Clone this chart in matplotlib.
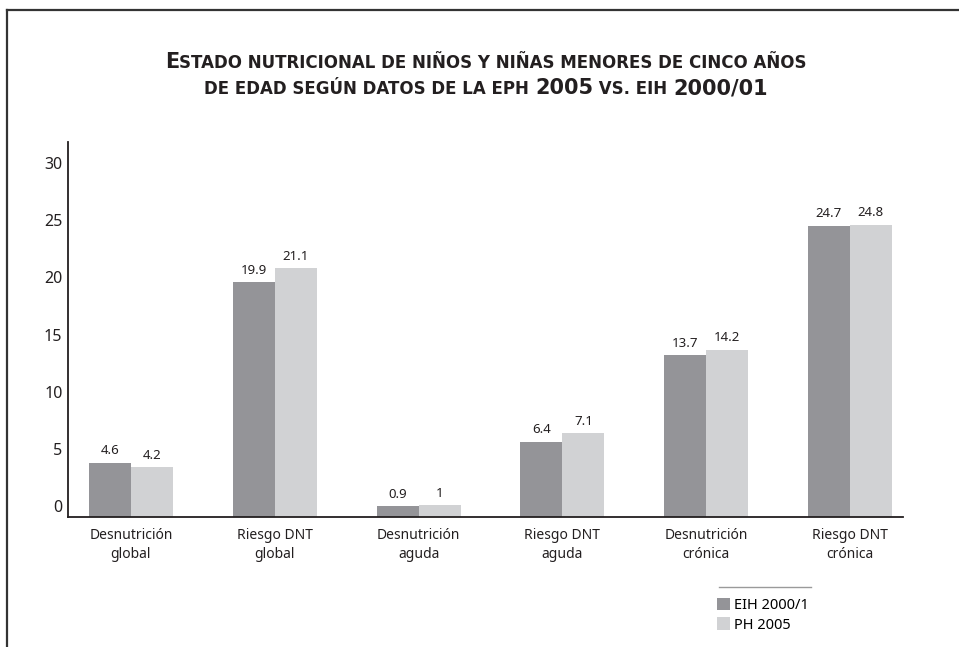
import numpy as np
import matplotlib
matplotlib.use("Agg")
import matplotlib.pyplot as plt
from matplotlib.patches import Patch
from matplotlib.lines import Line2D
from matplotlib.offsetbox import TextArea, HPacker, VPacker, AnchoredOffsetbox
from matplotlib.transforms import ScaledTranslation

categories = ["Desnutrición\nglobal", "Riesgo DNT\nglobal", "Desnutrición\naguda",
              "Riesgo DNT\naguda", "Desnutrición\ncrónica", "Riesgo DNT\ncrónica"]
eih_2000 = [4.6, 19.9, 0.9, 6.4, 13.7, 24.7]
eph_2005 = [4.2, 21.1, 1.0, 7.1, 14.2, 24.8]
series_names = ["EIH 2000/1", "PH 2005"]
yticks = [0, 5, 10, 15, 20, 25, 30]

DARK = "#949498"
LIGHT = "#d1d2d4"
TXT = "#231f20"
FONT = ["Noto Sans", "DejaVu Sans"]
TFONT = ["DejaVu Sans"]

fig = plt.figure(figsize=(9.59, 6.47), dpi=100)
ax = fig.add_axes([68/959, 1-517/647, (903-68)/959, (517-142)/647])

x = np.arange(len(categories))
w = 0.292
b1 = ax.bar(x - w/2, eih_2000, w, color=DARK, label=series_names[0])
b2 = ax.bar(x + w/2, eph_2005, w, color=LIGHT, label=series_names[1])
for bars in (b1, b2):
    ax.bar_label(bars, fmt="{:g}", padding=4, fontsize=9.5, color=TXT, family=FONT)

ax.set_xlim(-0.438, 5.369)
ax.set_ylim(0, 31.8)
ax.set_yticks(yticks)
ax.set_yticklabels([str(v) for v in yticks], fontsize=11.5, color=TXT, family=FONT)
ax.set_xticks(x)
ax.set_xticklabels(categories, fontsize=10, color=TXT, family=FONT, linespacing=1.35)
ax.tick_params(axis="both", length=0)
ax.tick_params(axis="y", pad=4)
ax.tick_params(axis="x", pad=8)
for lab, v in zip(ax.get_yticklabels(), yticks):
    off = (30 - v) / 30 * 11 / 100
    lab.set_transform(lab.get_transform() + ScaledTranslation(0, off, fig.dpi_scale_trans))

for s in ("top", "right"):
    ax.spines[s].set_visible(False)
for s in ("left", "bottom"):
    ax.spines[s].set_linewidth(1.3)
    ax.spines[s].set_color("#231f20")

# Title with small caps emulation
BIG = 15
SMALL = 12
def ta(t, size):
    return TextArea(t, textprops=dict(fontsize=size, fontweight="bold", color=TXT, family=TFONT))

line1 = HPacker(children=[ta("E", BIG), ta("STADO NUTRICIONAL DE NIÑOS Y NIÑAS MENORES DE CINCO AÑOS", SMALL)],
                align="baseline", pad=0, sep=0)
line2 = HPacker(children=[ta("DE EDAD SEGÚN DATOS DE LA EPH ", SMALL), ta("2005", BIG),
                          ta(" VS. EIH ", SMALL), ta("2000/01", BIG)],
                align="baseline", pad=0, sep=0)
title = VPacker(children=[line1, line2], align="center", pad=0, sep=5)
anch = AnchoredOffsetbox(loc="center", child=title, frameon=False, pad=0, borderpad=0,
                         bbox_to_anchor=(486/959, 1-75/647), bbox_transform=fig.transFigure)
fig.add_artist(anch)

# Legend
handles = [Patch(facecolor=DARK, edgecolor="none"), Patch(facecolor=LIGHT, edgecolor="none")]
fig.legend(handles, series_names, loc="upper left", bbox_to_anchor=(717/959, 1-598/647),
           frameon=False, handlelength=0.9, handleheight=0.9,
           handletextpad=0.3, labelspacing=0.3, borderpad=0, borderaxespad=0,
           prop=dict(family=FONT, size=10.5))
fig.add_artist(Line2D([719/959, 811/959], [1-587/647, 1-587/647], transform=fig.transFigure,
                      color="#9a9a9a", lw=1.0))

# Outer frame (top and left only)
fig.add_artist(Line2D([7/959, 1.0], [1-10/647, 1-10/647], transform=fig.transFigure,
                      color="#333333", lw=1.6))
fig.add_artist(Line2D([7/959, 7/959], [0, 1-10/647], transform=fig.transFigure,
                      color="#333333", lw=1.6))

fig.savefig("out.png", dpi=100)
